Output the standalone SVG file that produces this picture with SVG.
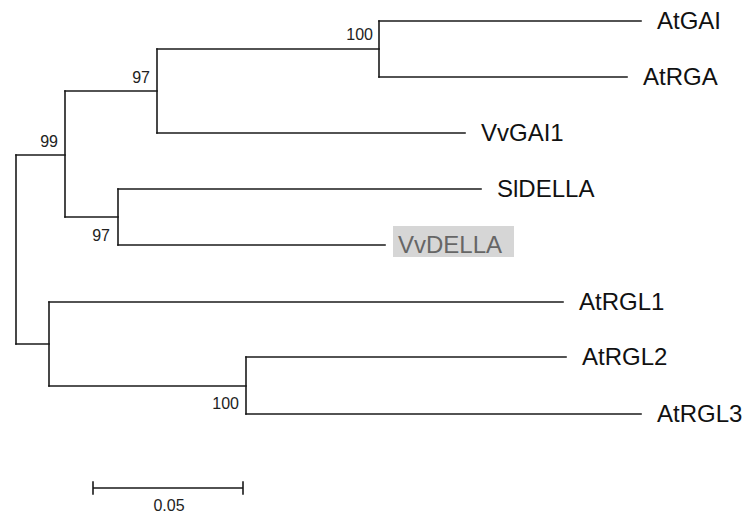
<svg xmlns="http://www.w3.org/2000/svg" width="747" height="517" viewBox="0 0 747 517">
<style>
.br{fill:none;stroke:#1a1a1a;stroke-width:1.6;stroke-linecap:square}
.lf{font-family:"Liberation Sans",Arial,sans-serif;font-size:24px;fill:#111}
.bs{font-family:"Liberation Sans",Arial,sans-serif;font-size:16px;fill:#222;text-anchor:end}
.sc{font-family:"Liberation Sans",Arial,sans-serif;font-size:16px;fill:#222;text-anchor:middle}
</style>
<rect width="747" height="517" fill="#fff"/>
<g id="connectors" class="br">
<path d="M16,155V344"/>
<path d="M16,155H65"/>
<path d="M65,91V217"/>
<path d="M65,91H157"/>
<path d="M157,49V133"/>
<path d="M157,49H379"/>
<path d="M379,21V77"/>
<path d="M379,21H641"/>
<path d="M379,77H627"/>
<path d="M157,133H465"/>
<path d="M65,217H118"/>
<path d="M118,189V245"/>
<path d="M118,189H481"/>
<path d="M118,245H385"/>
<path d="M16,344H49"/>
<path d="M49,302V386"/>
<path d="M49,302H563"/>
<path d="M49,386H246"/>
<path d="M246,357V414"/>
<path d="M246,357H566"/>
<path d="M246,414H641"/>
</g>
<g id="bootstrap">
<text class="bs" x="373" y="40">100</text>
<text class="bs" x="150" y="83">97</text>
<text class="bs" x="58" y="147">99</text>
<text class="bs" x="110" y="241">97</text>
<text class="bs" x="239" y="409">100</text>
</g>
<g id="AtGAI"><text class="lf" x="657" y="29">AtGAI</text></g>
<g id="AtRGA"><text class="lf" x="643" y="85">AtRGA</text></g>
<g id="VvGAI1"><text class="lf" x="481" y="141">VvGAI1</text></g>
<g id="SlDELLA"><text class="lf" x="497" y="197">SlDELLA</text></g>
<g id="VvDELLA"><rect x="393" y="226" width="121" height="31" fill="#d6d6d6"/><text class="lf" x="398" y="253" style="fill:#666">VvDELLA</text></g>
<g id="AtRGL1"><text class="lf" x="579" y="310">AtRGL1</text></g>
<g id="AtRGL2"><text class="lf" x="582" y="365">AtRGL2</text></g>
<g id="AtRGL3"><text class="lf" x="657" y="422">AtRGL3</text></g>
<g id="scalebar">
<path class="br" d="M93,488H243M93,482V494M243,482V494"/>
<text class="sc" x="169" y="511">0.05</text>
</g>
</svg>
